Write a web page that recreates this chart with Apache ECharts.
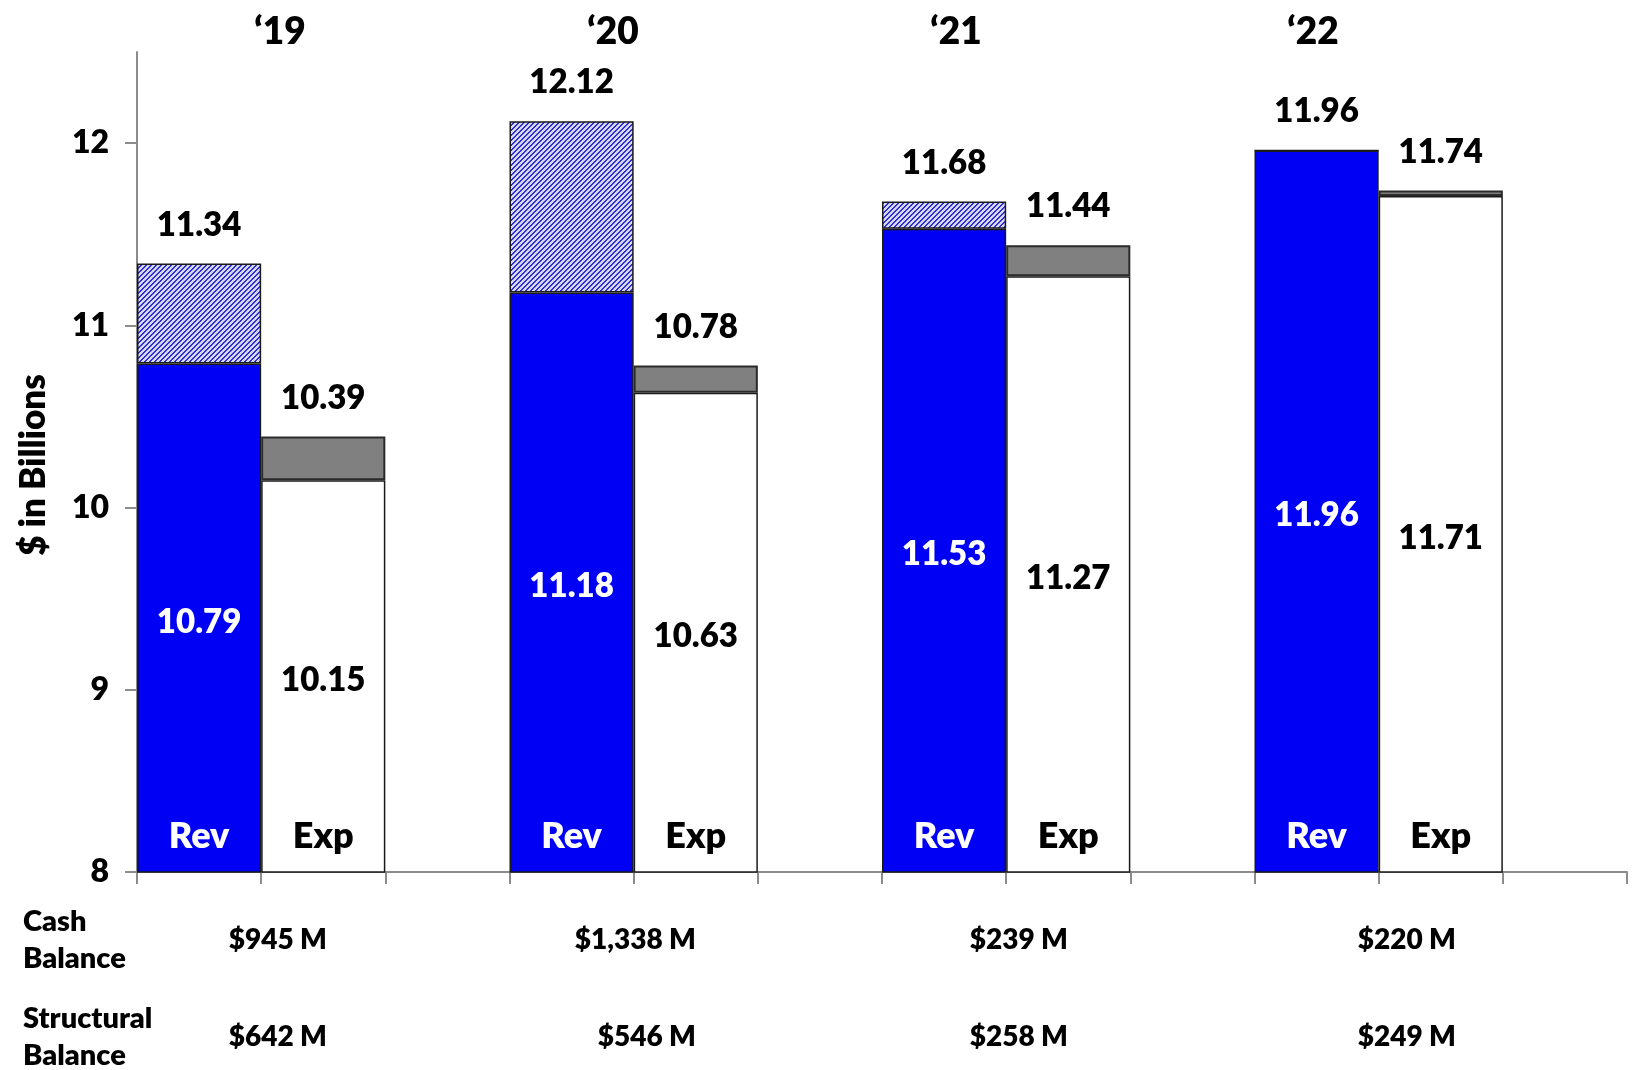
<!DOCTYPE html>
<html><head><meta charset="utf-8">
<script src="https://cdn.jsdelivr.net/npm/echarts@6/dist/echarts.min.js"></script>
<style>html,body{margin:0;padding:0;background:#fff}#c{width:1637px;height:1070px}</style>
</head><body><div id="c"></div>
<script>
// ---- data ----
const years = ['\u201819', '\u201820', '\u201821', '\u201822'];
const revBase = [10.79, 11.18, 11.53, 11.96];
const revTotal = [11.34, 12.12, 11.68, 11.96];
const expBase = [10.15, 10.63, 11.27, 11.71];
const expTotal = [10.39, 10.78, 11.44, 11.74];
const cashBalance = ['$945 M', '$1,338 M', '$239 M', '$220 M'];
const structuralBalance = ['$642 M', '$546 M', '$258 M', '$249 M'];
const yTicks = [8, 9, 10, 11, 12];
const barNames = ['Rev', 'Exp'];
const rowTitles = ['Cash\nBalance', 'Structural\nBalance'];

// ---- layout helpers ----
const cats = [];
years.forEach(y => { cats.push(y + ' Rev', y + ' Exp', y + ' gap'); });
function slot(arr, offset) {
  const d = cats.map(() => '-');
  arr.forEach((v, i) => { d[i * 3 + offset] = v; });
  return d;
}
const revTop = revTotal.map((t, i) => +(t - revBase[i]).toFixed(2));
const expTop = expTotal.map((t, i) => +(t - expBase[i]).toFixed(2));

function hatch() {
  const N = 5;
  const c = document.createElement('canvas');
  c.width = N; c.height = N;
  const ctx = c.getContext('2d');
  const img = ctx.createImageData(N, N);
  for (let y = 0; y < N; y++) for (let x = 0; x < N; x++) {
    const k = (x + y) % N;
    const col = k < 2 ? [45, 45, 215] : [215, 215, 250];
    const idx = (y * N + x) * 4;
    img.data[idx] = col[0]; img.data[idx + 1] = col[1]; img.data[idx + 2] = col[2]; img.data[idx + 3] = 255;
  }
  ctx.putImageData(img, 0, 0);
  return c;
}

const FONT = 'Lato';
const W = 800;
const border = { borderColor: '#1a1a1a', borderWidth: 1.5 };
const chart = echarts.init(document.getElementById('c'), null, { renderer: 'canvas' });

const labelPts = [];
years.forEach((y, i) => {
  labelPts.push({ value: [i * 3, 8], name: barNames[0], label: { color: '#ffffff' } });
  labelPts.push({ value: [i * 3 + 1, 8], name: barNames[1], label: { color: '#000000' } });
});

const graphics = [];
const yearX = [280, 613, 956, 1313];
years.forEach((y, i) => graphics.push({
  type: 'text', x: yearX[i], y: 32,
  style: { text: y, font: W + ' 37px ' + FONT, fill: '#000', textAlign: 'center', textVerticalAlign: 'middle' }
}));
graphics.push({
  type: 'text', x: 34, y: 465, rotation: Math.PI / 2,
  style: { text: '$ in Billions', font: W + ' 35px ' + FONT, fill: '#000', textAlign: 'center', textVerticalAlign: 'middle' }
});
const rowY = [940, 1037];
rowTitles.forEach((t, r) => graphics.push({
  type: 'text', x: 23, y: rowY[r],
  style: { text: t, font: W + ' 29px ' + FONT, lineHeight: 37, fill: '#000', textAlign: 'left', textVerticalAlign: 'middle' }
}));
const valRight = [327, 696, 1068, 1456];
[cashBalance, structuralBalance].forEach((arr, r) => arr.forEach((t, i) => graphics.push({
  type: 'text', x: valRight[i], y: rowY[r],
  style: { text: t, font: W + ' 28px ' + FONT, fill: '#000', textAlign: 'right', textVerticalAlign: 'middle' }
})));

const lbl = { fontFamily: FONT, fontWeight: W, fontSize: 33, textBorderWidth: 0 };

chart.setOption({
  animation: false,
  backgroundColor: '#fff',
  grid: { left: 137, right: 10, top: 52, bottom: 198, containLabel: false, outerBoundsMode: 'none' },
  xAxis: {
    type: 'category', data: cats, boundaryGap: true,
    axisLine: { lineStyle: { color: '#8c8c8c', width: 2 } },
    axisTick: { show: true, inside: false, length: 12, lineStyle: { color: '#8c8c8c', width: 2 } },
    axisLabel: { show: false }, splitLine: { show: false }
  },
  yAxis: {
    type: 'value', min: 8, max: 12.5, interval: 0.5,
    axisLine: { show: true, lineStyle: { color: '#8c8c8c', width: 2 } },
    axisTick: { show: true, length: 12, customValues: yTicks, lineStyle: { color: '#8c8c8c', width: 2 } },
    axisLabel: { customValues: yTicks, margin: 28, fontFamily: FONT, fontWeight: W, fontSize: 32, color: '#000' },
    splitLine: { show: false }
  },
  graphic: graphics,
  series: [
    {
      type: 'bar', name: 'Rev', stack: 's', data: slot(revBase, 0), barCategoryGap: '0%', barWidth: '100%',
      itemStyle: Object.assign({ color: '#0000f5' }, border),
      label: Object.assign({ show: true, position: 'inside', offset: [0, 4], color: '#fff',
        formatter: p => revBase[Math.floor(p.dataIndex / 3)].toFixed(2) }, lbl)
    },
    {
      type: 'bar', name: 'Exp', stack: 's', data: slot(expBase, 1), barCategoryGap: '0%', barWidth: '100%',
      itemStyle: Object.assign({ color: '#ffffff' }, border),
      label: Object.assign({ show: true, position: 'inside', offset: [0, 4], color: '#000',
        formatter: p => expBase[Math.floor(p.dataIndex / 3)].toFixed(2) }, lbl)
    },
    {
      type: 'bar', name: 'Rev one-time', stack: 's', data: slot(revTop, 0), barCategoryGap: '0%', barWidth: '100%',
      itemStyle: Object.assign({ color: { image: hatch(), repeat: 'repeat' } }, border),
      label: Object.assign({ show: true, position: 'top', distance: 22, color: '#000',
        formatter: p => revTotal[Math.floor(p.dataIndex / 3)].toFixed(2) }, lbl)
    },
    {
      type: 'bar', name: 'Exp one-time', stack: 's', data: slot(expTop, 1), barCategoryGap: '0%', barWidth: '100%',
      itemStyle: { color: '#808080', borderColor: '#2a2a2a', borderWidth: 2 },
      label: Object.assign({ show: true, position: 'top', distance: 22, color: '#000',
        formatter: p => expTotal[Math.floor(p.dataIndex / 3)].toFixed(2) }, lbl)
    },
    {
      type: 'scatter', data: labelPts, symbolSize: 0, clip: false, z: 5,
      itemStyle: { opacity: 1 },
      label: { show: true, position: 'inside', offset: [0, -36], fontFamily: FONT, fontWeight: W, fontSize: 36,
        textBorderWidth: 0, formatter: p => p.name }
    }
  ]
});
</script></body></html>
